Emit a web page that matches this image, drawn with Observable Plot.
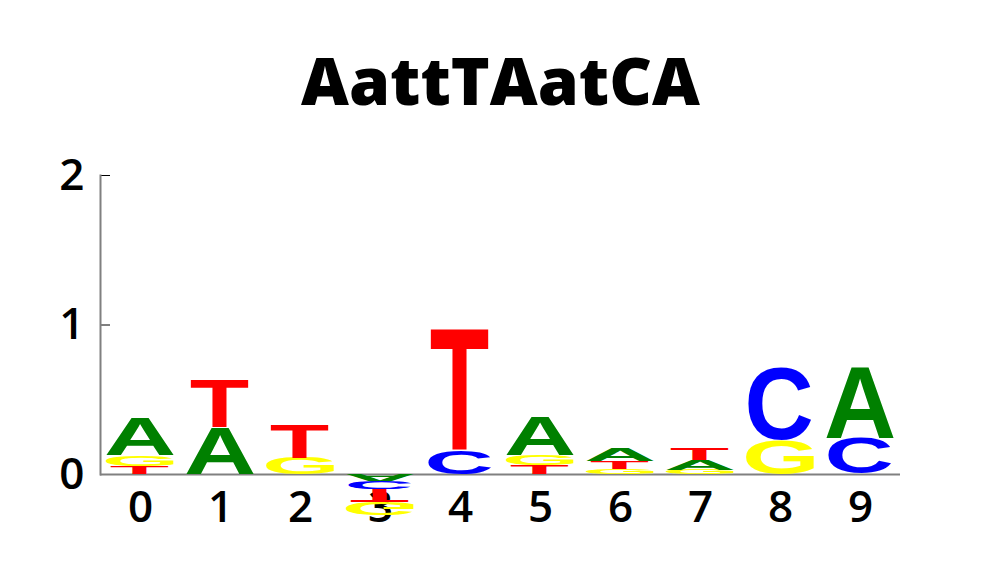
<!DOCTYPE html>
<html><head><meta charset="utf-8">
<script src="https://cdn.jsdelivr.net/npm/d3@7"></script>
<script src="https://cdn.jsdelivr.net/npm/@observablehq/plot@0.6"></script>
<style>body{margin:0;background:#fff}</style>
</head><body><div id="chart"></div>
<script>
// ---- data ----
const title = "AattTAatCA";
const positions = [0, 1, 2, 3, 4, 5, 6, 7, 8, 9];
const letters = ["A", "C", "G", "T"];
const valA = [0.255, 0.315, 0, -0.048, 0, 0.257, 0.09, 0.065, 0, 0.477];
const valC = [0, 0, 0, -0.05, 0.16, 0, 0, 0, 0.485, 0.24];
const valG = [0.073, 0, 0.11, -0.09, 0, 0.07, 0.035, 0.03, 0.23, 0];
const valT = [0.055, 0.325, 0.225, -0.088, 0.82, 0.06, 0.05, 0.08, 0, 0];
const yTicks = [0, 1, 2];

// ---- styles ----
const letterColors = {A: "#008000", C: "#0000ff", G: "#ffff00", T: "#ff0000"};
const letterWidth = {A: 0.85, C: 0.79, G: 0.85, T: 0.73};
const glyphFont = "'Liberation Sans', Arial, sans-serif";
const labelFont = "'Open Sans', sans-serif";

// ---- stacking ----
const series = {A: valA, C: valC, G: valG, T: valT};
const rows = [];
positions.forEach((p, j) => {
  const items = letters.map(l => ({letter: l, v: series[l][j]})).filter(d => d.v !== 0);
  let pos = 0, neg = 0;
  items.filter(d => d.v > 0).sort((a, b) => a.v - b.v).forEach(d => {
    rows.push({pos: p, letter: d.letter, y1: pos, y2: pos + d.v, flip: false}); pos += d.v;
  });
  items.filter(d => d.v < 0).sort((a, b) => b.v - a.v).forEach(d => {
    rows.push({pos: p, letter: d.letter, y1: neg, y2: neg + d.v, flip: true}); neg += d.v;
  });
});

// ---- glyph ink metrics ----
const cv = document.createElement("canvas").getContext("2d");
cv.font = `bold 100px ${glyphFont}`;
const metrics = {};
letters.forEach(l => {
  const m = cv.measureText(l);
  const left = -m.actualBoundingBoxLeft, right = m.actualBoundingBoxRight;
  const top = -m.actualBoundingBoxAscent, bottom = m.actualBoundingBoxDescent;
  metrics[l] = {left, top, gw: right - left, gh: bottom - top};
});

function renderLetters(index, scales, values, dims, context, next) {
  const g = next(index, scales, values, dims, context);
  const ns = "http://www.w3.org/2000/svg";
  const out = document.createElementNS(ns, "g");
  if (g.getAttribute("transform")) out.setAttribute("transform", g.getAttribute("transform"));
  const rects = Array.from(g.querySelectorAll("rect"));
  rects.forEach((r, k) => {
    const d = rows[index[k]];
    const x = +r.getAttribute("x"), y = +r.getAttribute("y");
    const w = +r.getAttribute("width"), h = +r.getAttribute("height");
    const m = metrics[d.letter];
    const bw = w * letterWidth[d.letter];
    const cx = x + w / 2;
    const sx = bw / m.gw, sy = h / m.gh;
    const t = document.createElementNS(ns, "text");
    t.textContent = d.letter;
    t.setAttribute("style", `font: bold 100px ${glyphFont}; text-anchor: start;`);
    t.setAttribute("fill", letterColors[d.letter]);
    const tr = d.flip
      ? `translate(${cx - bw / 2},${y + h}) scale(${sx},${-sy}) translate(${-m.left},${-m.top})`
      : `translate(${cx - bw / 2},${y}) scale(${sx},${sy}) translate(${-m.left},${-m.top})`;
    t.setAttribute("transform", tr);
    out.appendChild(t);
  });
  return out;
}

const chart = Plot.plot({
  width: 1000,
  height: 575,
  marginTop: 175,
  marginBottom: 101,
  marginLeft: 100,
  marginRight: 100,
  style: {fontFamily: labelFont, fontSize: "44px", fontWeight: 600, color: "#000", background: "#fff"},
  x: {type: "band", domain: positions, padding: 0, tickSize: 0, tickPadding: 16, label: null},
  y: {domain: [0, 2], ticks: yTicks, tickFormat: "d", tickSize: -10, tickPadding: 26, label: null},
  marks: [
    Plot.ruleY([0], {stroke: "#808080", strokeWidth: 2}),
    Plot.frame({anchor: "left", stroke: "#808080", strokeWidth: 2}),
    Plot.rect(rows, {x: "pos", y1: "y1", y2: "y2", fill: "letter", render: renderLetters}),
    Plot.text([title], {frameAnchor: "top", dy: -117, text: d => d, fontSize: 66, fontWeight: 800, fontFamily: labelFont, fill: "#000"})
  ]
});
document.getElementById("chart").appendChild(chart);
</script>
</body></html>
